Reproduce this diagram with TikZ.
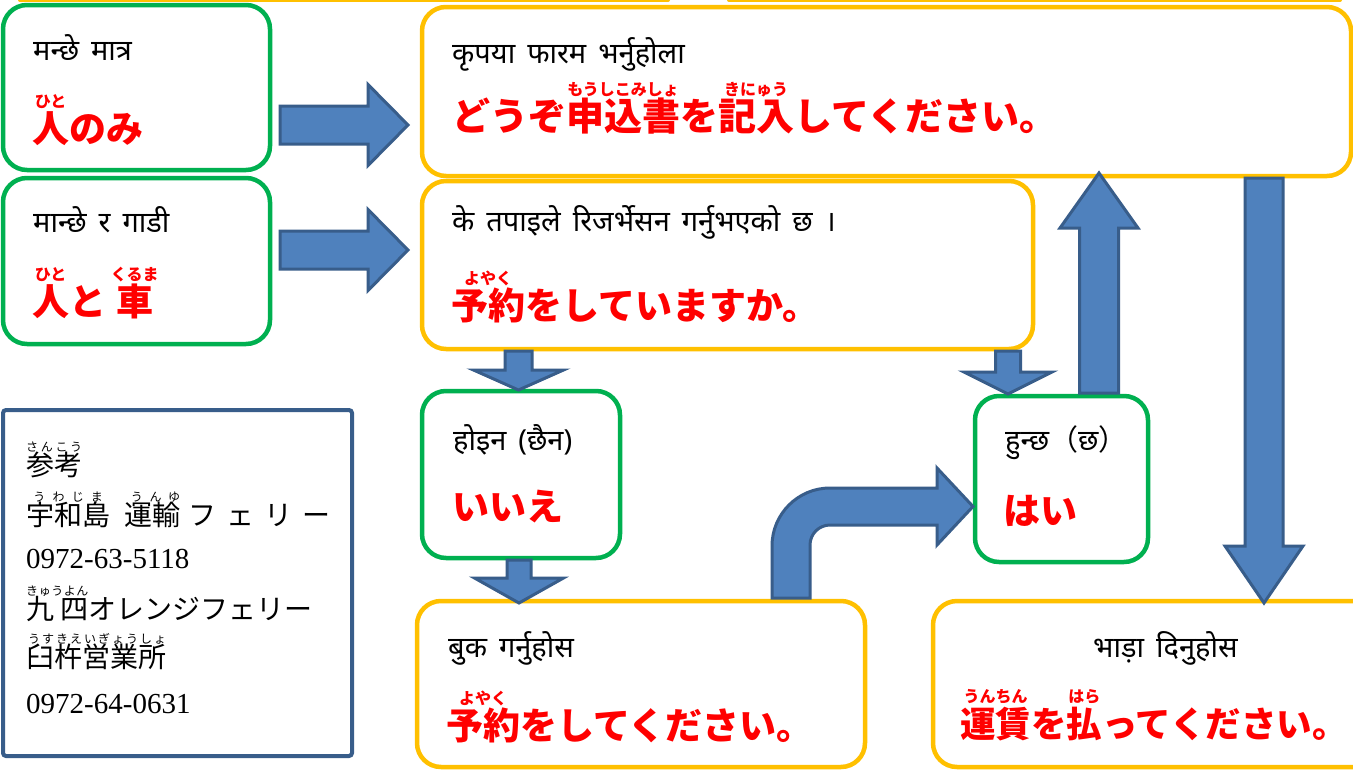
\documentclass[tikz,border=0pt]{standalone}
\usepackage{fontspec}
\newfontfamily\npfont[Script=Devanagari]{Noto Sans}
\newfontfamily\jpfont{Noto Sans CJK JP}
\newfontfamily\numfont{Liberation Serif}
\usetikzlibrary{calc}
\definecolor{gr}{HTML}{00B050}
\definecolor{yl}{HTML}{FFC000}
\definecolor{afill}{HTML}{4F81BD}
\definecolor{aline}{HTML}{385D8A}
\definecolor{jred}{HTML}{FF0000}
\newlength\rbraise
\setlength\rbraise{35pt}
\newcommand\rbfont{\fontsize{16}{16}\selectfont}
\newcommand\npset{\npfont\fontsize{29}{32}\selectfont\spaceskip=12pt\relax}
\newcommand\rjset{\jpfont\fontsize{28}{30}\selectfont\setlength\rbraise{24pt}\renewcommand\rbfont{\fontsize{12}{12}\selectfont}}
\newcommand\rb[2]{\leavevmode\setbox0=\hbox{#1}\rlap{\hbox to\wd0{\hss\raisebox{\rbraise}[0pt][0pt]{\rbfont #2}\hss}}\box0}
\newcommand\rbd[2]{\leavevmode\setbox0=\hbox{#1}\rlap{\raisebox{\rbraise}[0pt][0pt]{\hbox to\wd0{\rbfont #2}}}\box0}
\newcommand\bx[6]{\node[#2, minimum width={#5-#3}, minimum height={#6-#4}] (#1) at ({(#3+#5)/2},{(#4+#6)/2}) {};}
\newcommand\arV[6]{\draw[blk] (#1-#5,#2) -- (#1-#5,#3) -- (#1-#6,#3) -- (#1,#4) -- (#1+#6,#3) -- (#1+#5,#3) -- (#1+#5,#2) -- cycle;}
\newcommand\arH[6]{\draw[blk] (#2,#1-#5) -- (#3,#1-#5) -- (#3,#1-#6) -- (#4,#1) -- (#3,#1+#6) -- (#3,#1+#5) -- (#2,#1+#5) -- cycle;}
\tikzset{
  box/.style={draw, fill=white, line width=4.5pt, rounded corners=24pt, inner sep=0pt},
  gbox/.style={box, draw=gr},
  ybox/.style={box, draw=yl},
  refbox/.style={draw=aline, fill=white, line width=4pt, rounded corners=3pt, inner sep=0pt},
  blk/.style={fill=afill, draw=aline, line width=3pt, line join=miter},
  np/.style={anchor=base west, inner sep=0pt, font=\npset},
  jp/.style={anchor=base west, inner sep=0pt, text=jred, font=\jpfont\bfseries\fontsize{37}{40}\selectfont},
  jpl/.style={jp, font=\jpfont\bfseries\fontsize{38}{40}\selectfont},
  jps/.style={jp, font=\jpfont\bfseries\fontsize{35.5}{40}\selectfont},
  rj/.style={anchor=base west, inner sep=0pt, font=\rjset},
  rn/.style={anchor=base west, inner sep=0pt, font=\numfont\fontsize{29}{30}\selectfont},
}
\begin{document}
\begin{tikzpicture}[x=1pt,y=-1pt]
\useasboundingbox[fill=white] (0,0) rectangle (1353,769);
% partial boxes above the frame
\draw[yl, line width=4pt, line cap=round] (20,0) -- (668,0);
\draw[yl, line width=4pt, line cap=round] (729,0) -- (1340,0);
% boxes
\bx{A}{gbox}{3}{5}{270}{170}
\bx{B}{gbox}{3}{178}{270}{344}
\bx{C}{ybox}{422}{7}{1351}{176}
\bx{D}{ybox}{422}{181}{1033}{349}
\bx{E}{gbox}{422}{391}{620}{558}
\bx{F}{ybox}{417}{601}{865}{767}
\bx{G}{gbox}{975}{396}{1148}{562}
\bx{H}{ybox}{933}{601}{1400}{767}
\bx{I}{refbox}{3}{410}{352}{756}
% Nepali texts
\node[np] (nA) at (33,60) {मन्छे मात्र};
\node[np] (nB) at (33,232) {मान्छे र गाडी};
\node[np] (nC) at (452,63) {कृपया फारम भर्नुहोला};
\node[np] (nD) at (452,231) {के तपाइले रिजर्भेसन गर्नुभएको छ ।};
\node[np] (nE) at (453,450) {होइन (छैन)};
\node[np] (nF) at (448,657) {बुक गर्नुहोस};
\node[np] (nG) at (1005,450) {हुन्छ{\jpfont （}छ{\jpfont ）}};
\node[np] (nH) at (1093,657) {भाड़ा दिनुहोस};
% Japanese texts
\node[jp] (jA) at (32,142) {\rb{人}{ひと}のみ};
\node[jp] (jB) at (32,315) {\rb{人}{ひと}と\hspace{10pt}\rb{車}{くるま}};
\node[jpl] (jC) at (452,130) {どうぞ\rb{申込書}{もうしこみしょ}を\rb{記入}{きにゅう}してください。};
\node[jp] (jD) at (451,319) {\rb{予約}{よやく}をしていますか。};
\node[jp] (jE) at (452,520) {いいえ};
\node[jp] (jF) at (446,739) {\rb{予約}{よやく}をしてください。};
\node[jp] (jG) at (1003,524) {はい};
\node[jps] (jH) at (960,737) {\rb{運賃}{うんちん}を\rb{払}{はら}ってください。};
% reference box
\node[rj] (r1) at (26,475) {\rbd{参考}{さ\hfil ん\hfil こ\hfil う}};
\node[rj] (r2) at (26,525) {\rbd{宇和島}{\hfil う\hfil わ\hfil じ\hfil ま\hfil}\hspace{14pt}\rbd{運輸}{\hfil う\hfil ん\hfil ゆ}\hspace{8pt}フ\hspace{10pt}ェ\hspace{10pt}リ\hspace{10pt}ー};
\node[rn] (r3) at (26,568) {0972-63-5118};
\node[rj] (r4) at (26,619) {\rbd{九 四}{き\hfil ゅ\hfil う\hfil よ\hfil ん}オレンジフェリー};
\node[rj] (r5) at (26,667) {\rbd{臼杵営業所}{\hfil う\hfil す\hfil き\hfil え\hfil い\hfil ぎ\hfil ょ\hfil う\hfil し\hfil ょ}};
\node[rn] (r6) at (26,713) {0972-64-0631};
% block arrows
\arH{125}{280}{368}{408}{19}{40.5}
\arH{250}{280}{368}{408}{19}{40.5}
\arV{518.5}{351}{370}{390}{13.5}{45}
\arV{519}{560}{578}{603}{12}{44.5}
\arV{1008}{351}{372}{394}{12.5}{44}
\arV{1099}{393}{228}{173}{19.5}{39}
\arV{1264}{178}{546}{603}{19}{39}
\draw[blk] (772,598) -- (772,546) arc[start angle=180,end angle=270,radius=58] -- (937,488) -- (937,468) -- (973,506.5) -- (937,545) -- (937,525) -- (830,525) arc[start angle=270,end angle=180,radius=20] -- (810,598) -- cycle;
\end{tikzpicture}
\end{document}
